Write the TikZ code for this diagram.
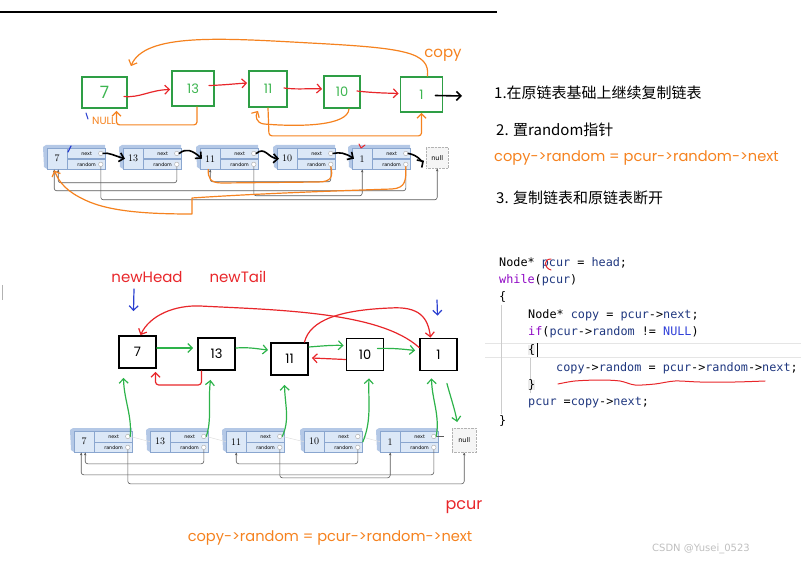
\documentclass[tikz,border=0pt]{standalone}
\usepackage{fontspec}
\usetikzlibrary{arrows.meta}
\newfontfamily\cjkfont{Noto Sans CJK SC}
\newfontfamily\gothfont{Poppins}
\newfontfamily\codefont{DejaVu Sans Mono}
\newfontfamily\markfont{DejaVu Sans}
\definecolor{copygreen}{HTML}{2E9E45}
\definecolor{copytext}{HTML}{3DB550}
\definecolor{penred}{HTML}{E8262A}
\definecolor{penorange}{HTML}{F5821F}
\definecolor{pengreen}{HTML}{2DB34A}
\definecolor{penblue}{HTML}{2A3FD0}
\definecolor{boxfill}{HTML}{DCE8F7}
\definecolor{boxedge}{HTML}{8AA6CF}
\definecolor{boxside}{HTML}{B4C8E6}
\definecolor{codeid}{HTML}{1F377F}
\definecolor{codekw}{HTML}{8F08C4}
\definecolor{codenull}{HTML}{2F3FD8}
\newcommand{\cid}[1]{\textcolor{codeid}{#1}}
\newcommand{\ckw}[1]{\textcolor{codekw}{#1}}
% one cell of the drawn list: name, x, y (top left), value
\newcommand{\listnode}[4]{%
  \fill[boxside] (#2,#3+2) -- (#2+3,#3) -- (#2+62,#3) -- (#2+62,#3+3) -- (#2+4,#3+3) -- (#2+4,#3+24) -- (#2+1,#3+22) -- cycle;
  \node[valcell, anchor=north west] (#1) at (#2+4,#3+3) {#4};
  \node[ptrcell, anchor=north west] (#1n) at (#1.north east) {next};
  \node[ptrcell, anchor=north west] (#1r) at (#1n.south west) {random};
  \node[ptrdot] (#1nd) at ([xshift=-5pt]#1n.east) {};
  \node[ptrdot] (#1rd) at ([xshift=-5pt]#1r.east) {};
}

\begin{document}
\begin{tikzpicture}[x=1pt,y=-1pt]
	\tikzstyle{valcell} = [draw=boxedge, fill=boxfill, minimum width=20pt, minimum height=21pt, inner sep=0pt, font=\fontsize{10}{12}\selectfont]
	\tikzstyle{ptrcell} = [draw=boxedge, fill=boxfill, minimum width=38pt, minimum height=10.5pt, inner sep=0pt, font=\markfont\fontsize{4.8}{5}\selectfont]
	\tikzstyle{ptrdot} = [circle, draw=gray!70, fill=white, minimum size=4.5pt, inner sep=0pt]
	\tikzstyle{nullbox} = [draw=gray!60, densely dotted, fill=gray!8, minimum width=22pt, minimum height=21pt, inner sep=0pt, font=\markfont\fontsize{6.5}{7}\selectfont]
	\tikzstyle{ptrline} = [draw=gray!70!black, line width=0.6pt, rounded corners=2.5pt, -{Stealth[length=3pt,width=2.5pt]}]
	\tikzstyle{nextline} = [draw=gray!25, line width=0.5pt]
	\tikzstyle{copybox} = [draw=copygreen, line width=1.8pt, minimum width=42pt, minimum height=32pt, inner sep=0pt, text=copytext, font=\gothfont\fontsize{13}{15}\selectfont]
	\tikzstyle{newbox} = [draw=black, line width=1.8pt, minimum width=37pt, minimum height=32pt, inner sep=0pt, font=\gothfont\fontsize{13}{15}\selectfont]
	\tikzstyle{barb} = [-{Straight Barb[length=4.5pt,width=9pt]}]
	\tikzstyle{barbback} = [{Straight Barb[length=4.5pt,width=9pt]}-]
	\tikzstyle{redpen} = [draw=penred, line width=1.2pt, line cap=round, line join=round]
	\tikzstyle{orangepen} = [draw=penorange, line width=1.2pt, line cap=round, line join=round]
	\tikzstyle{greenpen} = [draw=pengreen, line width=1.2pt, line cap=round, line join=round]
	\tikzstyle{bluepen} = [draw=penblue, line width=1.2pt, line cap=round, line join=round]
	\tikzstyle{blackpen} = [draw=black, line width=1.6pt, line cap=round, line join=round]
	\tikzstyle{handlabel} = [inner sep=0pt, font=\gothfont\fontsize{15}{17}\selectfont]
	\tikzstyle{stepnote} = [anchor=west, inner sep=0pt, font=\cjkfont\fontsize{15}{18}\selectfont]
	\tikzstyle{formula} = [inner sep=0pt, text=penorange, font=\gothfont\fontsize{14.6}{16}\selectfont]
	\tikzstyle{codeline} = [anchor=west, inner sep=0pt, font=\codefont\fontsize{11.8}{14}\selectfont]

	\useasboundingbox (0,0) rectangle (801,564);
	\draw[line width=1.5pt] (0,12) -- (497,12);
	\draw[gray!60] (2,285) -- (2,300);

	% copies in the first row
	\node[copybox, minimum width=45pt, minimum height=31pt, font=\gothfont\fontsize{17}{19}\selectfont] (c7) at (104.5,92.5) {7};
	\node[copybox, minimum height=35pt] (c13) at (193,88.5) {13};
	\node[copybox, minimum width=38pt, minimum height=36pt] (c11) at (268,89) {11};
	\node[copybox, minimum width=36pt] (c10) at (342,92) {10};
	\node[copybox, minimum height=35pt] (c1) at (421.5,94.5) {1};
	\coordinate (c1out) at (462,96);
	\draw[redpen,barb] ([xshift=-4pt,yshift=-4pt]c7.east) .. controls (140,98) and (150,90) .. ([xshift=-1pt,yshift=-1pt]c13.west);
	\draw[redpen,barb] ([xshift=-6pt,yshift=3pt]c13.east) .. controls (225,85) and (232,84) .. ([xshift=-1pt,yshift=6pt]c11.west);
	\draw[redpen,barb] ([xshift=-4pt,yshift=1pt]c11.east) .. controls (300,90) and (310,88) .. ([xshift=-1pt,yshift=3pt]c10.west);
	\draw[redpen,barb] ([xshift=-4pt,yshift=1pt]c10.east) .. controls (375,93) and (385,93) .. ([xshift=-1pt,yshift=1pt]c1.west);
	\draw[blackpen,barb] ([xshift=-8pt,yshift=-1pt]c1.east) -- (c1out);
	\draw[orangepen,barb] ([xshift=6pt]c1.north) .. controls (430,52) and (405,48) .. (310,43) .. controls (220,38) and (145,33) .. ([xshift=3pt,yshift=10pt]c7.north east);
	\draw[orangepen,barb,rounded corners=3pt] ([xshift=4pt]c13.south) -- ++(0,18) -| ([xshift=12pt,yshift=-2pt]c7.south);
	\draw[orangepen,barb] ([xshift=7pt]c10.south) .. controls (348,126) and (300,127) .. (264,124) .. controls (256,123) and (255,116) .. ([xshift=-10pt,yshift=-3pt]c11.south);
	\draw[orangepen,barb,rounded corners=3pt] (c11.south) -- ++(1,28) -| (c1.south);
	\node[handlabel, text=penorange] (copylbl) at (443,55) {copy};
	\node[handlabel, text=penorange, font=\gothfont\fontsize{10.5}{12}\selectfont] (nulllbl) at (104,121) {NULL};
	\draw[bluepen, line width=1pt] (86,113) -- (88,119);

	% the original list
	\listnode{a7}{43}{145}{7}
	\listnode{a13}{119}{145}{13}
	\listnode{a11}{196}{145}{11}
	\listnode{a10}{273}{145}{10}
	\listnode{a1}{348}{145}{1}
	\node[nullbox, anchor=north west] (anull) at (426,147) {null};
	\draw[ptrline] (a13rd.south) -- ++(0,16) -| ([xshift=1pt]a7.south);
	\draw[ptrline] (a1rd.south) -- ++(0,24) -| ([xshift=-3pt]a7.south);
	\draw[ptrline] (a7rd.south) -- ++(0,33) -| (anull.south);
	\draw[ptrline] (a11rd.south) -- ++(0,29) -| (a1.south);
	\draw[ptrline] (a10rd.south) -- ++(0,15) -| (a11.south);
	\draw[blackpen,barb] (a7nd.east) .. controls (108,152) and (115,156) .. ([xshift=2pt]a13.west);
	\draw[blackpen,barb] (a13nd.east) .. controls (186,148) and (192,150) .. ([xshift=2pt]a11.west);
	\draw[blackpen,barb] (a11nd.east) .. controls (265,146) and (268,158) .. ([xshift=2pt]a10.west);
	\draw[blackpen,barb] (a10nd.east) .. controls (340,152) and (345,153) .. ([xshift=2pt]a1.west);
	\draw[blackpen,barb] (a1nd.east) .. controls (418,155) and (422,162) .. ([xshift=-2pt,yshift=-3pt]anull.west);
	\draw[orangepen] (a10rd.south) .. controls (333,176) and (332,182) .. (318,182) -- (222,183) .. controls (210,183) and (208,178) .. ([xshift=-2pt]a11.south);
	\draw[orangepen,barb] (a1rd.south) .. controls (406,180) and (406,188) .. (392,189) .. controls (330,191) and (250,194) .. (192,198) -- (192,214) .. controls (150,214) and (110,212) .. (85,200) .. controls (68,192) and (60,184) .. ([xshift=-3pt,yshift=-1pt]a7.south);
	\draw[bluepen] (71,146) -- (68,152);
	\draw[redpen, line width=1pt] (359,144) -- (361,148) -- (365,145);

	% steps
	\node[stepnote] (s1) at (494,93) {1.在原链表基础上继续复制链表};
	\node[stepnote] (s2) at (496,130) {2. 置random指针};
	\node[formula, anchor=west] (f1) at (494,158) {copy->random = pcur->random->next};
	\node[stepnote] (s3) at (496,198) {3. 复制链表和原链表断开};

	% new list
	\node[newbox] (d7) at (137.5,352) {7};
	\node[newbox] (d13) at (216.5,354) {13};
	\node[newbox] (d11) at (289.5,359) {11};
	\node[newbox] (d10) at (365,354.5) {10};
	\node[newbox] (d1) at (438.5,354.5) {1};
	\node[handlabel, text=penred] (headlbl) at (147,277) {newHead};
	\node[handlabel, text=penred] (taillbl) at (238,277) {newTail};
	\coordinate (headmark) at (134,289);
	\coordinate (tailmark) at (437,300);
	\draw[bluepen,barb] (headmark) -- ([xshift=-4pt,yshift=24pt]d7.north);
	\draw[bluepen,barb] (tailmark) -- ([xshift=-1pt,yshift=22pt]d1.north);
	\draw[greenpen,barb] ([yshift=4pt]d7.east) -- ([xshift=-4pt,yshift=6pt]d13.west);
	\draw[greenpen,barb] ([yshift=6pt]d13.east) .. controls (250,347) and (258,349) .. ([xshift=-2pt,yshift=9pt]d11.west);
	\draw[greenpen,barb] ([yshift=12pt]d11.east) .. controls (322,346) and (332,345) .. ([xshift=-2pt,yshift=9pt]d10.west);
	\draw[greenpen,barb] ([xshift=-7pt,yshift=6pt]d10.east) .. controls (392,348) and (402,349) .. ([xshift=-4pt,yshift=4pt]d1.west);
	\draw[redpen,barb] ([yshift=-5pt]d10.west) -- ([xshift=3pt,yshift=1pt]d11.east);
	\draw[redpen,barb,rounded corners=3pt] ([xshift=-15pt]d13.south) -- ++(0,14) -| ([xshift=18pt,yshift=-3pt]d7.south);
	\draw[redpen,barbback] ([xshift=3pt]d7.north) .. controls (150,315) and (175,305) .. (200,306) .. controls (280,310) and (380,312) .. ([yshift=7pt]d1.west);
	\draw[redpen,barb] ([xshift=15pt]d11.north) .. controls (310,320) and (340,310) .. (390,308) .. controls (420,306) and (428,318) .. ([xshift=-8pt]d1.north);

	% the list again, below
	\listnode{b7}{70}{428}{7}
	\listnode{b13}{146}{428}{13}
	\listnode{b11}{222}{428}{11}
	\listnode{b10}{300}{428}{10}
	\listnode{b1}{376}{428}{1}
	\node[nullbox, minimum width=24pt, minimum height=24pt, anchor=north west] (bnull) at (452,428) {null};
	\draw[nextline] (b7nd.east) -- (b13.west);
	\draw[nextline] (b13nd.east) -- (b11.west);
	\draw[nextline] (b11nd.east) -- (b10.west);
	\draw[nextline] (b10nd.east) -- (b1.west);
	\draw[draw=gray!70!black, line width=0.6pt] (b1nd.east) -- ++(8,0);
	\draw[ptrline] (b13rd.south) -- ++(0,14) -| ([xshift=1pt]b7.south);
	\draw[ptrline] (b1rd.south) -- ++(0,25) -| ([xshift=-3pt]b7.south);
	\draw[ptrline] (b7rd.south) -- ++(0,34) -| (bnull.south);
	\draw[ptrline] (b11rd.south) -- ++(0,28) -| (b1.south);
	\draw[ptrline] (b10rd.south) -- ++(0,14) -| (b11.south);
	\draw[greenpen,barb] (b7nd.east) .. controls (132,415) and (124,400) .. ([xshift=-14pt,yshift=-9pt]d7.south);
	\draw[greenpen,barb] (b13nd.east) .. controls (212,420) and (208,400) .. ([xshift=-6pt,yshift=-9pt]d13.south);
	\draw[greenpen,barb] (b11nd.east) .. controls (290,420) and (285,405) .. ([xshift=-5pt,yshift=-9pt]d11.south);
	\draw[greenpen,barb] (b10n.south east) .. controls (372,420) and (368,400) .. ([xshift=4pt,yshift=-7pt]d10.south);
	\draw[greenpen,barb] (b1nd.east) .. controls (440,415) and (432,400) .. ([xshift=-7pt,yshift=-7pt]d1.south);
	\draw[greenpen,barb] ([xshift=-11pt,yshift=-12pt]d1.south east) .. controls (450,395) and (455,410) .. ([xshift=-7pt,yshift=6pt]bnull.north);
	\node[handlabel, text=penred, font=\gothfont\fontsize{16}{18}\selectfont] (pcurlbl) at (464,507) {pcur};
	\node[formula] (f2) at (330,538) {copy->random = pcur->random->next};

	% code
	\draw[gray!20] (485,343) -- (801,343);
	\draw[gray!20] (485,357) -- (801,357);
	\draw[gray!40] (501,305) -- (501,414);
	\draw[gray!40] (530,358) -- (530,393);
	\node[codeline] (k1) at (499,263) {Node* \cid{pcur} = \cid{head};};
	\node[codeline] (k2) at (499,280) {\ckw{while}(\cid{pcur})};
	\node[codeline] (k3) at (499,297) {\{};
	\node[codeline] (k4) at (528,315) {Node* \cid{copy} = \cid{pcur}->\cid{next};};
	\node[codeline] (k5) at (528,332) {\ckw{if}(\cid{pcur}->\cid{random} != \textcolor{codenull}{NULL})};
	\node[codeline, fill=gray!15] (k6) at (528,350) {\{};
	\node[codeline] (k7) at (556,368) {\cid{copy}->\cid{random} = \cid{pcur}->\cid{random}->\cid{next};};
	\node[codeline, fill=gray!15] (k8) at (528,385) {\}};
	\node[codeline] (k9) at (528,403) {\cid{pcur} =\cid{copy}->\cid{next};};
	\node[codeline] (k10) at (499,421) {\}};
	\draw[line width=0.8pt] (537,343) -- (537,357);
	\draw[redpen, line width=1pt] (551,259) .. controls (543,259) and (544,268) .. (551,270);
	\draw[redpen, line width=1pt] plot[smooth] coordinates {(558,384) (575,381) (600,380) (620,381) (635,385) (655,384) (675,381) (700,382) (735,382) (765,381)};

	\node[font=\markfont\fontsize{10}{12}\selectfont, text=gray!50] (wm) at (701,549) {CSDN @Yusei\_0523};
\end{tikzpicture}
\end{document}
